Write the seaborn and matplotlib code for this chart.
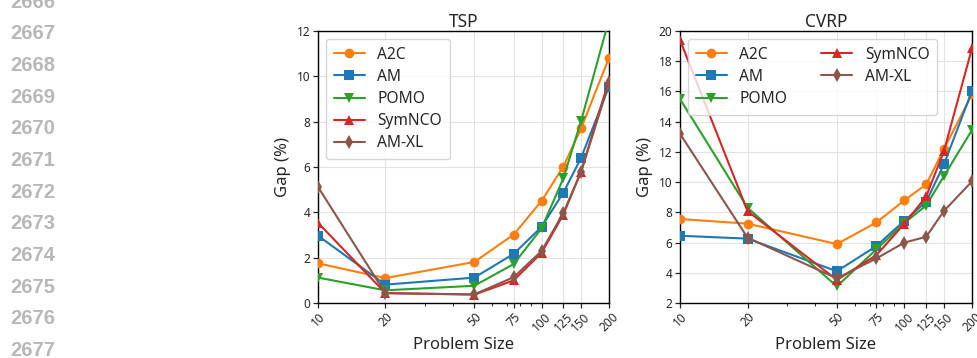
import matplotlib
matplotlib.use("Agg")
import matplotlib.pyplot as plt
import seaborn as sns
import pandas as pd
from matplotlib.ticker import FixedLocator, FixedFormatter, NullFormatter, LogLocator

sizes = [10, 20, 50, 75, 100, 125, 150, 200]
methods = ["A2C", "AM", "POMO", "SymNCO", "AM-XL"]

tsp_a2c = [1.75, 1.10, 1.81, 3.02, 4.51, 6.02, 7.70, 10.82]
tsp_am = [2.97, 0.81, 1.12, 2.17, 3.36, 4.87, 6.40, 9.55]
tsp_pomo = [1.12, 0.56, 0.76, 1.72, 3.30, 5.50, 8.03, 12.50]
tsp_symnco = [3.54, 0.44, 0.37, 1.00, 2.22, 3.90, 5.80, 9.84]
tsp_amxl = [5.12, 0.43, 0.38, 1.14, 2.30, 3.98, 5.78, 9.70]

cvrp_a2c = [7.56, 7.25, 5.90, 7.33, 8.80, 9.85, 12.19, 15.80]
cvrp_am = [6.45, 6.26, 4.10, 5.77, 7.45, 8.70, 11.18, 16.03]
cvrp_pomo = [15.50, 8.30, 3.10, 5.55, 7.30, 8.45, 10.40, 13.45]
cvrp_symnco = [19.40, 8.08, 3.53, 5.17, 7.25, 9.05, 12.06, 18.86]
cvrp_amxl = [13.20, 6.32, 3.63, 4.95, 6.00, 6.38, 8.09, 10.05]

titles = ["TSP", "CVRP"]
tick_labels = ["10", "20", "50", "75", "100", "125", "150", "200"]
line_numbers = [str(n) for n in range(2666, 2678)]

def make_df(series):
    rows = []
    for m, vals in zip(methods, series):
        for s, v in zip(sizes, vals):
            rows.append({"size": s, "gap": v, "method": m})
    return pd.DataFrame(rows)

df_tsp = make_df([tsp_a2c, tsp_am, tsp_pomo, tsp_symnco, tsp_amxl])
df_cvrp = make_df([cvrp_a2c, cvrp_am, cvrp_pomo, cvrp_symnco, cvrp_amxl])

sns.set_theme(style="ticks")
plt.rcParams["font.family"] = ["Noto Sans", "DejaVu Sans"]

fig = plt.figure(figsize=(9.77, 3.58), dpi=100)
ax1 = fig.add_axes([318/977, 1-303/358, 291/977, 272/358])
ax2 = fig.add_axes([680/977, 1-303/358, 292/977, 272/358])

tab = sns.color_palette("tab10", 10)
palette = [tab[1], tab[0], tab[2], tab[3], tab[5]]
markers = ["o", "s", "v", "^", "d"]

for ax, df, title, ylim, yticks in [
    (ax1, df_tsp, "TSP", (0, 12), [0, 2, 4, 6, 8, 10, 12]),
    (ax2, df_cvrp, "CVRP", (2, 20), [2, 4, 6, 8, 10, 12, 14, 16, 18, 20]),
]:
    for i, m in enumerate(methods):
        sub = df[df["method"] == m]
        sns.lineplot(data=sub, x="size", y="gap", ax=ax, color=palette[i],
                     marker=markers[i], markersize=7, markeredgewidth=0,
                     linewidth=1.5, label=m, zorder=3)
    ax.set_xscale("log")
    ax.set_xlim(10, 200)
    ax.set_ylim(*ylim)
    ax.xaxis.set_major_locator(FixedLocator(sizes))
    ax.xaxis.set_major_formatter(FixedFormatter(tick_labels))
    ax.xaxis.set_minor_locator(LogLocator(base=10, subs=range(1, 10)))
    ax.xaxis.set_minor_formatter(NullFormatter())
    ax.set_yticks(yticks)
    ax.tick_params(axis="x", which="major", labelsize=8.5, rotation=45, length=3.5, width=0.9, pad=2)
    ax.tick_params(axis="x", which="minor", length=2, width=0.7)
    ax.tick_params(axis="y", labelsize=8.5, length=3.5, width=0.9, pad=2)
    ax.grid(True, which="major", color="#e3e3e3", linewidth=0.8)
    for sp in ax.spines.values():
        sp.set_color("black")
        sp.set_linewidth(1.0)
    ax.set_title(title, fontsize=12.5, pad=3)
    ax.set_xlabel("Problem Size", fontsize=12, labelpad=2)
    ax.set_ylabel("Gap (%)", fontsize=12, labelpad=4)

ax1.legend(loc="upper left", fontsize=11.2, frameon=True, handlelength=2,
           borderpad=0.5, labelspacing=0.4, fancybox=True)
ax2.legend(loc="upper left", fontsize=11.2, frameon=True, ncol=2, handlelength=2,
           borderpad=0.5, labelspacing=0.4, columnspacing=2.2, fancybox=True)

for k, t in enumerate(line_numbers):
    fig.text(10/977, 1-(2+k*31.7)/358, t, fontsize=14.5, fontweight="bold",
             color="#b8b8b8", va="center", ha="left",
             family=["Liberation Sans", "DejaVu Sans"])

fig.savefig("out.png", dpi=100)
